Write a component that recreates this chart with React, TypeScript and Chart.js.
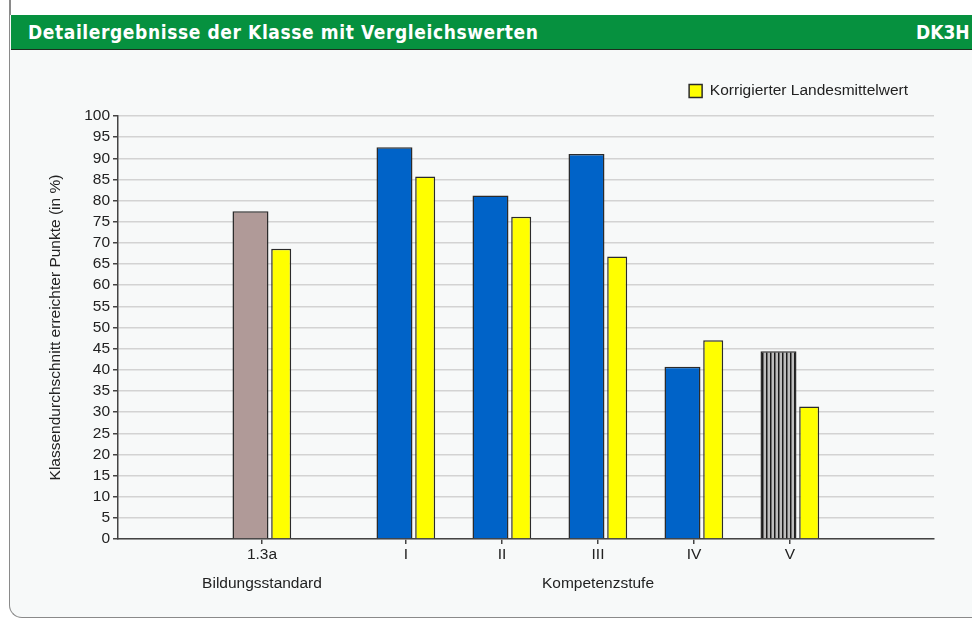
import React, { useEffect, useRef } from 'react';
import { Chart, registerables } from 'chart.js';

Chart.register(...registerables);

// ---- data ----
const categories = ['1.3a', 'I', 'II', 'III', 'IV', 'V'];
const categoryPositions = [1.5, 3, 4, 5, 6, 7];
const groupLabels = ['Bildungsstandard', '', '', 'Kompetenzstufe', '', ''];
const klassenValues = [77.5, 92.6, 81.2, 91.0, 40.7, 44.4];
const landesValues = [68.6, 85.7, 76.2, 66.8, 47.0, 31.3];
const seriesLabels = ['Klassendurchschnitt', 'Korrigierter Landesmittelwert'];
const yAxisTitle = 'Klassendurchschnitt erreichter Punkte (in %)';
const headerTitle = 'Detailergebnisse der Klasse mit Vergleichswerten';
const headerCode = 'DK3H';
const yMin = 0;
const yMax = 100;
const yStep = 5;
const xMin = 0;
const xMax = 8.5;

// ---- style ----
const MAIN_OFFSET = -0.12;
const REF_OFFSET = 0.2;
const FONT = "'Liberation Sans', Arial, sans-serif";
const TEXT = '#222';
const AXIS = '#444';
const FS = 15.5;

export default function App() {
  const ref = useRef<HTMLCanvasElement>(null);

  useEffect(() => {
    const canvas = ref.current!;
    Chart.defaults.font.family = FONT;

    const pc = document.createElement('canvas');
    pc.width = 4;
    pc.height = 8;
    const p = pc.getContext('2d')!;
    p.fillStyle = '#bdbdbd';
    p.fillRect(0, 0, 4, 8);
    p.fillStyle = '#1a1a1a';
    p.fillRect(2, 0, 1, 8);
    p.fillStyle = '#6e6e6e';
    p.fillRect(3, 0, 1, 8);
    const pattern = canvas.getContext('2d')!.createPattern(pc, 'repeat')!;

    const mainColors = categories.map((_, i) =>
      i === 0 ? '#b09a98' : i === categories.length - 1 ? pattern : '#0063c8'
    );

    const chart = new Chart(canvas, {
      type: 'bar',
      data: {
        datasets: [
          {
            label: seriesLabels[0],
            data: klassenValues.map((v, i) => ({ x: categoryPositions[i] + MAIN_OFFSET, y: v })),
            backgroundColor: mainColors as any,
            borderColor: '#2b2b2b',
            borderWidth: 1.5,
            maxBarThickness: 36,
            grouped: false,
            categoryPercentage: 1,
            barPercentage: 3,
          },
          {
            label: seriesLabels[1],
            data: landesValues.map((v, i) => ({ x: categoryPositions[i] + REF_OFFSET, y: v })),
            backgroundColor: '#ffff00',
            borderColor: '#2b2b2b',
            borderWidth: 1.5,
            maxBarThickness: 20,
            grouped: false,
            categoryPercentage: 1,
            barPercentage: 3,
          },
        ],
      } as any,
      options: {
        responsive: false,
        animation: false,
        devicePixelRatio: 1,
        layout: { padding: { left: 0, right: 38, top: 7.25, bottom: 0 } },
        plugins: {
          legend: {
            position: 'top',
            align: 'end',
            labels: {
              filter: (item: any) => item.datasetIndex === 1,
              boxWidth: 13,
              boxHeight: 13,
              padding: 26,
              color: TEXT,
              font: { size: FS },
            },
          },
          subtitle: {
            display: true,
            text: '',
            weight: 100,
            padding: { top: 6.25, bottom: 0 },
            font: { size: 1, lineHeight: 1 },
          },
          tooltip: { enabled: false },
        },
        scales: {
          x: {
            type: 'linear',
            min: xMin,
            max: xMax,
            offset: false,
            afterBuildTicks: (s: any) => {
              s.ticks = categoryPositions.map((v) => ({ value: v }));
            },
            afterFit: (s: any) => {
              s.height = 80;
            },
            ticks: {
              autoSkip: false,
              maxRotation: 0,
              minRotation: 0,
              padding: 3.75,
              color: TEXT,
              font: { size: FS, lineHeight: 14.5 / FS },
              callback: (_v: any, i: number) =>
                groupLabels[i] ? [categories[i], '', groupLabels[i]] : categories[i],
            },
            grid: {
              offset: false,
              drawOnChartArea: false,
              drawTicks: true,
              tickLength: 5,
              tickColor: AXIS,
              color: AXIS,
              lineWidth: 1.5,
            },
            border: { display: true, color: AXIS, width: 1.5 },
          },
          y: {
            min: yMin,
            max: yMax,
            afterFit: (s: any) => {
              s.width = 118;
            },
            ticks: {
              stepSize: yStep,
              autoSkip: false,
              padding: 3,
              color: TEXT,
              font: { size: FS },
            },
            grid: {
              color: '#d3d3d3',
              lineWidth: 1.5,
              tickColor: AXIS,
              tickLength: 5,
            },
            border: { color: AXIS, width: 1.5 },
            title: {
              display: true,
              text: yAxisTitle,
              color: TEXT,
              font: { size: FS },
              padding: { top: 46, bottom: 0 },
            },
          },
        },
      } as any,
    });

    return () => chart.destroy();
  }, []);

  return (
    <div
      style={{
        position: 'fixed',
        left: 0,
        top: 0,
        width: 972,
        height: 619,
        background: '#ffffff',
        overflow: 'hidden',
      }}
    >
      <div
        style={{
          position: 'absolute',
          left: 9,
          top: 0,
          width: 1.5,
          height: 20,
          background: '#8a8a8a',
        }}
      />
      <div
        style={{
          position: 'absolute',
          left: 9,
          top: 15,
          width: 1000,
          height: 602,
          borderLeft: '1.5px solid #8a8a8a',
          borderBottom: '1.5px solid #8a8a8a',
          borderBottomLeftRadius: 13,
          background: '#f7f9f9',
        }}
      />
      <div
        style={{
          position: 'absolute',
          left: 11,
          top: 15,
          width: 980,
          height: 34,
          background: '#06913f',
          borderBottom: '1.5px solid #1c2e1e',
          color: '#ffffff',
          fontFamily: "'DejaVu Sans Condensed', 'DejaVu Sans', sans-serif",
          fontWeight: 'bold',
          fontSize: 19,
          lineHeight: '34px',
        }}
      >
        <span style={{ position: 'absolute', left: 17, top: 0, whiteSpace: 'nowrap', letterSpacing: '0.6px' }}>
          {headerTitle}
        </span>
        <span style={{ position: 'absolute', left: 905, top: 0, whiteSpace: 'nowrap' }}>{headerCode}</span>
      </div>
      <canvas
        ref={ref}
        width={972}
        height={569}
        style={{ position: 'absolute', left: 0, top: 50, width: 972, height: 569 }}
      />
    </div>
  );
}
